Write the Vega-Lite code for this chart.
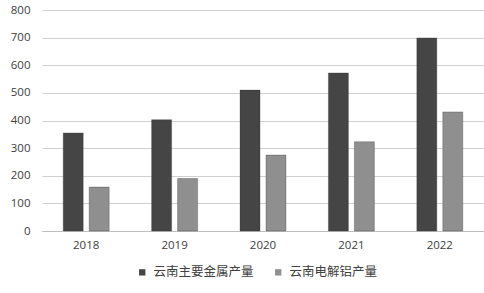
{
  "$schema": "https://vega.github.io/schema/vega-lite/v6.json",
  "width": 442,
  "height": 221,
  "autosize": {"type": "none"},
  "padding": {"left": 42, "top": 10, "right": 0, "bottom": 62},
  "background": "#ffffff",
  "data": {"values": [
    {"year": "2018", "series": "云南主要金属产量", "value": 355},
    {"year": "2018", "series": "云南电解铝产量", "value": 159},
    {"year": "2019", "series": "云南主要金属产量", "value": 403},
    {"year": "2019", "series": "云南电解铝产量", "value": 190},
    {"year": "2020", "series": "云南主要金属产量", "value": 510},
    {"year": "2020", "series": "云南电解铝产量", "value": 275},
    {"year": "2021", "series": "云南主要金属产量", "value": 572},
    {"year": "2021", "series": "云南电解铝产量", "value": 323},
    {"year": "2022", "series": "云南主要金属产量", "value": 699},
    {"year": "2022", "series": "云南电解铝产量", "value": 431}
  ]},
  "config": {
    "view": {"stroke": null},
    "font": "Noto Sans CJK SC"
  },
  "mark": {"type": "bar", "stroke": "#2a2a2a", "strokeWidth": 0.5, "strokeOpacity": 0.6},
  "encoding": {
    "x": {
      "field": "year", "type": "nominal",
      "scale": {"paddingInner": 0.48, "paddingOuter": 0.24},
      "axis": {
        "title": null, "labelAngle": 0, "ticks": false, "domainColor": "#bfbfbf",
        "labelColor": "#404040", "labelFontSize": 11.5, "labelPadding": 8, "labelFont": "Open Sans"
      }
    },
    "xOffset": {"field": "series", "type": "nominal", "scale": {"paddingInner": 0.23, "paddingOuter": 0}},
    "y": {
      "field": "value", "type": "quantitative",
      "scale": {"domain": [0, 800]},
      "axis": {
        "title": null, "values": [0,100,200,300,400,500,600,700,800],
        "labelOverlap": false,
        "ticks": false, "domain": false, "gridColor": "#d0d0d0",
        "labelColor": "#404040", "labelFontSize": 11.5, "labelPadding": 12, "labelFont": "Open Sans"
      }
    },
    "color": {
      "field": "series", "type": "nominal",
      "scale": {"domain": ["云南主要金属产量", "云南电解铝产量"], "range": ["#454545", "#8f8f8f"]},
      "legend": {
        "title": null, "orient": "none", "direction": "horizontal",
        "legendX": 94, "legendY": 256,
        "symbolType": "square", "symbolSize": 40, "symbolStrokeWidth": 0,
        "labelFontSize": 12.5, "labelColor": "#404040", "columnPadding": 18, "labelOffset": 5
      }
    }
  }
}
